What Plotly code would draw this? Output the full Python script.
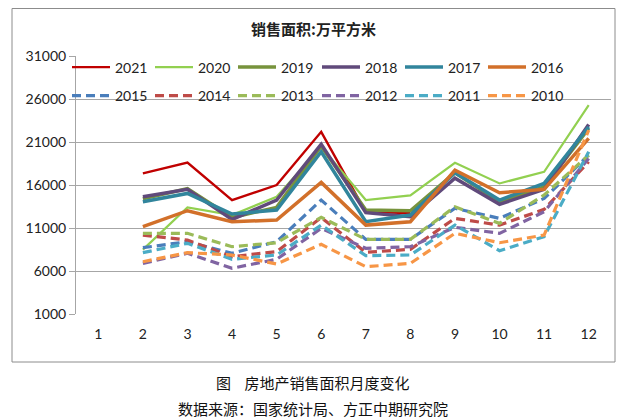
import plotly.graph_objects as go

months = [1, 2, 3, 4, 5, 6, 7, 8, 9, 10, 11, 12]
month_labels = ["1", "2", "3", "4", "5", "6", "7", "8", "9", "10", "11", "12"]
y_ticks = [1000, 6000, 11000, 16000, 21000, 26000, 31000]

s2021 = [None, 17350, 18620, 14250, 15990, 22180, 12850, 12750, None, None, None, None]
s2020 = [None, 8480, 13400, 12510, 14630, 20440, 14250, 14790, 18580, 16180, 17530, 25280]
s2019 = [None, 14400, 15580, 12220, 13400, 20520, 13090, 13010, 17420, 14050, 15790, 22570]
s2018 = [None, 14630, 15500, 12000, 14250, 20750, 12780, 12310, 16800, 13750, 15490, 23030]
s2017 = [None, 14050, 15020, 12620, 13090, 19860, 11730, 12510, 17420, 14250, 16180, 22760]
s2016 = [None, 11150, 13010, 11730, 11920, 16300, 11340, 11730, 17730, 15100, 15490, 21410]
s2015 = [None, 8710, 9410, 8060, 9410, 14250, 9680, 9680, 13290, 12120, 14440, 19480]
s2014 = [None, 10180, 9600, 7670, 8250, 12200, 8170, 8520, 12120, 11340, 13170, 18700]
s2013 = [None, 10380, 10380, 8830, 9290, 12240, 9680, 9680, 13470, 11540, 14830, 19480]
s2012 = [None, 6890, 8060, 6320, 7360, 10960, 8640, 8830, 11080, 10380, 12890, 19090]
s2011 = [None, 8130, 9220, 7360, 7860, 11340, 7780, 7860, 11340, 8360, 9990, 19860]
s2010 = [None, 7080, 8130, 7860, 6820, 9100, 6500, 6890, 10380, 9290, 10180, 22370]

DASH = "9px,5px"
series = [
    ("2021", s2021, "#C00000", 2.4, "solid", "legend"),
    ("2020", s2020, "#92D050", 2.2, "solid", "legend"),
    ("2019", s2019, "#77933C", 3.5, "solid", "legend"),
    ("2018", s2018, "#604A7B", 3.5, "solid", "legend2"),
    ("2017", s2017, "#31859C", 3.5, "solid", "legend2"),
    ("2016", s2016, "#D2702A", 3.5, "solid", "legend2"),
    ("2015", s2015, "#4A7EBB", 3.2, DASH, "legend3"),
    ("2014", s2014, "#BE4B48", 3.2, DASH, "legend3"),
    ("2013", s2013, "#9BBB59", 3.2, DASH, "legend3"),
    ("2012", s2012, "#8064A2", 3.2, DASH, "legend4"),
    ("2011", s2011, "#4BACC6", 3.2, DASH, "legend4"),
    ("2010", s2010, "#F79646", 3.2, DASH, "legend4"),
]

# page body offset (browser default margin) -> work in reference pixel coords
OFF = 8
W, H = 626 - OFF, 420 - OFF
PLOT_L, PLOT_R, PLOT_T, PLOT_B = 76, 611, 56, 314  # reference pixels
ML, MR, MT, MB = PLOT_L - OFF, (W + OFF) - PLOT_R, PLOT_T - OFF, (H + OFF) - PLOT_B
PW = PLOT_R - PLOT_L
PH = PLOT_B - PLOT_T


def px(x):
    return (x - PLOT_L) / PW


def py(y):
    return (PLOT_B - y) / PH


fig = go.Figure()
for name, vals, color, width, dash, lg in series:
    fig.add_trace(go.Scatter(
        x=months, y=vals, name=name, mode="lines",
        line=dict(color=color, width=width, dash=dash),
        legend=lg, connectgaps=False,
    ))

font_main = "Lato, 'Noto Sans', sans-serif"
cjk = "'Noto Sans CJK SC', sans-serif"


def leg(x_line_start, y_center):
    return dict(
        x=px(x_line_start - 7), y=py(y_center),
        orientation="h", xanchor="left", yanchor="middle",
        bgcolor="rgba(0,0,0,0)", font=dict(family=font_main, size=14, color="#222"),
        entrywidth=30, entrywidthmode="pixels", itemwidth=38,
    )


fig.update_layout(
    width=W, height=H,
    margin=dict(l=ML, r=MR, t=MT, b=MB),
    paper_bgcolor="white", plot_bgcolor="white",
    showlegend=True,
    legend=leg(74, 67.5),
    legend2=leg(324, 67.5),
    legend3=leg(74, 96),
    legend4=leg(324, 96),
    xaxis=dict(
        range=[0.5, 12.5], tickmode="array", tickvals=months, ticktext=month_labels,
        showgrid=False, zeroline=False, showline=False, ticks="",
        ticklabelstandoff=10,
        tickfont=dict(family=font_main, size=14, color="#222"),
    ),
    yaxis=dict(
        range=[1000, 31000], tickmode="array", tickvals=y_ticks,
        ticktext=[str(v) for v in y_ticks],
        showgrid=True, gridcolor="#A6A6A6", gridwidth=1,
        zeroline=False, showline=True, linecolor="#A6A6A6", linewidth=1,
        ticks="outside", ticklen=6, tickcolor="#A6A6A6",
        tickfont=dict(family=font_main, size=14, color="#222"),
    ),
    annotations=[
        dict(text="<b>销售面积:万平方米</b>", x=px(313), y=py(28), xref="paper", yref="paper",
             showarrow=False, font=dict(family=cjk, size=15, color="#222"),
             xanchor="center", yanchor="middle"),
        dict(text="图    房地产销售面积月度变化", x=px(312), y=py(382), xref="paper", yref="paper",
             showarrow=False, font=dict(family=cjk, size=15, color="#111"),
             xanchor="center", yanchor="middle"),
        dict(text="数据来源：国家统计局、方正中期研究院", x=px(313), y=py(408), xref="paper", yref="paper",
             showarrow=False, font=dict(family=cjk, size=15, color="#111"),
             xanchor="center", yanchor="middle"),
    ],
    shapes=[
        dict(type="rect", xref="paper", yref="paper",
             x0=px(12), x1=px(615), y0=py(362), y1=py(8.5),
             line=dict(color="#8C8C8C", width=1), fillcolor="rgba(0,0,0,0)", layer="below"),
    ],
)

fig.write_html("out.html")
